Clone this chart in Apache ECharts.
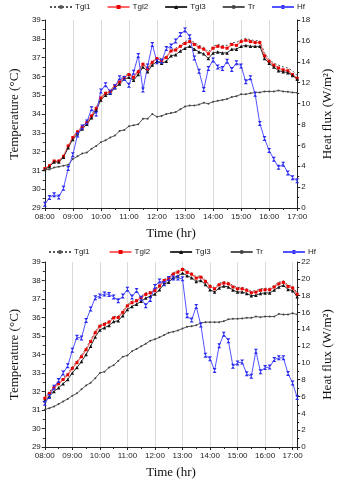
<!DOCTYPE html>
<html>
<head>
<meta charset="utf-8">
<script src="https://cdn.jsdelivr.net/npm/echarts@6/dist/echarts.min.js"></script>
<style>
  html, body { margin: 0; padding: 0; background: #fff; }
  #main { width: 342px; height: 480px; }
</style>
</head>
<body>
<div id="main"></div>
<script>
var chart = echarts.init(document.getElementById("main"));

// readings every 10 min from 08:00
var names = ["Tgl1", "Tgl2", "Tgl3", "Tr", "Hf"];

// top panel (08:00 - 17:00)
var tgl1A = [31.1, 31.25, 31.5, 31.5, 31.75, 32.3, 32.8, 33.1, 33.35, 33.6, 33.95, 34.35, 34.9, 35.15, 35.25, 35.55, 35.75, 36.0, 36.15, 36.0, 36.3, 36.7, 36.45, 36.8, 37.0, 36.95, 37.05, 37.4, 37.5, 37.65, 37.85, 37.95, 37.8, 37.65, 37.55, 37.3, 37.6, 37.7, 37.65, 37.65, 37.8, 37.8, 37.95, 38.02, 37.95, 37.9, 37.9, 37.25, 36.9, 36.7, 36.6, 36.5, 36.45, 36.3, 36.05];
var tgl2A = [31.1, 31.25, 31.5, 31.5, 31.75, 32.3, 32.75, 33.05, 33.3, 33.55, 33.9, 34.3, 34.85, 35.1, 35.2, 35.5, 35.7, 35.95, 36.1, 35.95, 36.25, 36.65, 36.4, 36.75, 36.95, 36.85, 37.0, 37.35, 37.4, 37.6, 37.75, 37.85, 37.7, 37.55, 37.45, 37.2, 37.5, 37.6, 37.55, 37.5, 37.7, 37.65, 37.85, 37.92, 37.85, 37.8, 37.8, 37.1, 36.8, 36.6, 36.45, 36.35, 36.3, 36.1, 35.9];
var tgl3A = [31.05, 31.2, 31.45, 31.45, 31.7, 32.2, 32.65, 32.95, 33.2, 33.45, 33.8, 34.2, 34.75, 35.0, 35.1, 35.4, 35.6, 35.85, 35.95, 35.8, 36.1, 36.5, 36.25, 36.6, 36.8, 36.7, 36.8, 37.1, 37.15, 37.35, 37.5, 37.6, 37.45, 37.3, 37.2, 36.95, 37.25, 37.3, 37.25, 37.25, 37.45, 37.45, 37.6, 37.65, 37.6, 37.6, 37.6, 36.95, 36.7, 36.5, 36.3, 36.25, 36.2, 36.05, 35.85];
var trA = [31.05, 31.05, 31.15, 31.2, 31.25, 31.3, 31.6, 31.75, 31.9, 31.95, 32.15, 32.3, 32.5, 32.6, 32.75, 32.85, 33.1, 33.15, 33.35, 33.4, 33.45, 33.75, 33.75, 34.0, 33.85, 33.9, 34.0, 34.05, 34.1, 34.25, 34.4, 34.45, 34.45, 34.5, 34.6, 34.55, 34.65, 34.7, 34.75, 34.8, 34.9, 34.95, 35.05, 35.05, 35.1, 35.15, 35.15, 35.2, 35.2, 35.2, 35.25, 35.2, 35.18, 35.15, 35.13];
var hfA = [0.35, 1.0, 1.28, 1.05, 1.9, 3.77, 5.1, 7.0, 7.76, 8.24, 9.5, 9.0, 11.2, 11.8, 11.1, 11.6, 12.46, 12.4, 11.76, 13.0, 14.6, 11.3, 13.6, 15.65, 14.0, 14.06, 15.27, 15.5, 16.0, 16.6, 17.04, 16.4, 14.35, 13.1, 11.35, 13.36, 14.16, 13.5, 13.36, 14.06, 13.27, 13.9, 13.6, 12.08, 12.46, 10.9, 8.1, 6.65, 5.5, 4.66, 3.9, 4.2, 3.35, 2.9, 2.6];

// bottom panel (08:00 - 17:10)
var tgl1B = [31.7, 31.98, 32.28, 32.5, 32.73, 32.98, 33.33, 33.64, 33.96, 34.34, 34.78, 35.25, 35.6, 35.7, 35.82, 36.05, 36.08, 36.35, 36.7, 36.88, 36.98, 37.15, 37.33, 37.41, 37.53, 37.78, 38.07, 38.18, 38.42, 38.52, 38.68, 38.52, 38.42, 38.21, 38.26, 38.03, 37.76, 37.63, 37.85, 37.94, 37.9, 37.73, 37.63, 37.63, 37.55, 37.42, 37.45, 37.55, 37.58, 37.58, 37.73, 37.9, 37.98, 37.76, 37.68, 37.33];
var tgl2B = [31.63, 31.9, 32.2, 32.42, 32.65, 32.9, 33.25, 33.56, 33.88, 34.26, 34.7, 35.18, 35.53, 35.63, 35.75, 35.98, 36.0, 36.28, 36.63, 36.8, 36.9, 37.07, 37.25, 37.33, 37.45, 37.7, 38.0, 38.1, 38.35, 38.45, 38.6, 38.44, 38.34, 38.13, 38.18, 37.95, 37.68, 37.55, 37.77, 37.86, 37.82, 37.65, 37.55, 37.55, 37.47, 37.34, 37.37, 37.47, 37.5, 37.5, 37.65, 37.82, 37.9, 37.68, 37.6, 37.25];
var tgl3B = [31.5, 31.75, 32.0, 32.2, 32.42, 32.65, 33.0, 33.3, 33.62, 34.0, 34.45, 34.95, 35.33, 35.45, 35.57, 35.78, 35.82, 36.1, 36.43, 36.6, 36.72, 36.88, 37.05, 37.15, 37.27, 37.5, 37.82, 37.9, 38.15, 38.25, 38.4, 38.26, 38.15, 37.95, 38.0, 37.78, 37.5, 37.38, 37.6, 37.7, 37.65, 37.48, 37.38, 37.38, 37.3, 37.18, 37.2, 37.3, 37.33, 37.33, 37.48, 37.65, 37.74, 37.52, 37.45, 37.12];
var trB = [31.02, 31.1, 31.19, 31.32, 31.46, 31.6, 31.77, 31.9, 32.12, 32.33, 32.47, 32.72, 33.0, 33.07, 33.3, 33.42, 33.65, 33.88, 33.95, 34.18, 34.3, 34.44, 34.58, 34.75, 34.82, 34.93, 35.05, 35.18, 35.23, 35.3, 35.4, 35.5, 35.53, 35.58, 35.7, 35.75, 35.75, 35.75, 35.75, 35.8, 35.9, 35.93, 35.93, 35.95, 35.98, 35.98, 36.05, 36.02, 36.05, 36.05, 36.05, 36.19, 36.16, 36.16, 36.23, 36.16];
var hfB = [5.2, 6.0, 7.1, 7.9, 8.8, 9.65, 11.5, 13.05, 12.95, 15.05, 16.4, 17.75, 17.95, 18.2, 18.15, 17.85, 17.4, 17.95, 18.75, 17.85, 18.6, 17.7, 16.8, 17.55, 19.1, 19.75, 19.4, 20.05, 20.1, 20.1, 20.0, 15.6, 15.1, 16.7, 14.5, 10.9, 10.5, 9.1, 12.05, 13.4, 12.65, 9.6, 10.0, 10.1, 8.7, 8.4, 11.4, 8.95, 9.45, 9.5, 10.4, 10.6, 10.6, 8.75, 7.6, 5.9];

var hourLabel = function (m) {
  var h = 8 + Math.round(m / 60);
  return (h < 10 ? "0" + h : h) + ":00";
};
var pairs = function (vals) {
  return vals.map(function (v, i) { return [i * 10, v]; });
};

var serif = "Liberation Serif";
var sans = "Liberation Sans";
var hourglass = "path://M0,0L10,0L0,10L10,10Z";

function makeSeries(k, arr) {
  var x = k, yL = k * 2, yR = k * 2 + 1;
  return [
    { name: "Tgl1", type: "line", xAxisIndex: x, yAxisIndex: yL, data: pairs(arr[0]),
      symbol: "none", lineStyle: { color: "#555", width: 1, type: [2, 2] }, itemStyle: { color: "#555" } },
    { name: "Tgl2", type: "line", xAxisIndex: x, yAxisIndex: yL, data: pairs(arr[1]),
      symbol: "rect", symbolSize: 3, lineStyle: { color: "#ff6666", width: 1.2 }, itemStyle: { color: "#e60000" } },
    { name: "Tgl3", type: "line", xAxisIndex: x, yAxisIndex: yL, data: pairs(arr[2]),
      symbol: "triangle", symbolSize: 3.5, lineStyle: { color: "#333", width: 1 }, itemStyle: { color: "#111" } },
    { name: "Tr", type: "line", xAxisIndex: x, yAxisIndex: yL, data: pairs(arr[3]),
      symbol: "circle", symbolSize: 2, lineStyle: { color: "#555", width: 1 }, itemStyle: { color: "#444" } },
    { name: "Hf", type: "line", xAxisIndex: x, yAxisIndex: yR, data: pairs(arr[4]),
      symbol: hourglass, symbolSize: [4, 5], lineStyle: { color: "#5252ff", width: 1 }, itemStyle: { color: "#2a2aee" } }
  ];
}

function xAx(k, max) {
  return {
    type: "value", gridIndex: k, min: 0, max: max, interval: 60,
    name: "Time (hr)", nameLocation: "middle", nameGap: 19,
    nameTextStyle: { fontFamily: serif, fontSize: 13, color: "#111" },
    axisLine: { lineStyle: { color: "#222" } },
    axisTick: { lineStyle: { color: "#222" }, length: 3 },
    minorTick: { show: true, splitNumber: 2, length: 2, lineStyle: { color: "#222" } },
    axisLabel: { fontFamily: sans, fontSize: 8, color: "#222", margin: 5, showMaxLabel: max === 540,
      formatter: hourLabel },
    splitLine: { show: true, lineStyle: { color: "#dadada", width: 1 } }
  };
}
function yLeft(k) {
  return {
    type: "value", gridIndex: k, min: 29, max: 39, interval: 1, position: "left",
    name: "Temperature (\u00B0C)", nameLocation: "middle", nameGap: 19, nameRotate: 90,
    nameTextStyle: { fontFamily: serif, fontSize: 13, color: "#111" },
    axisLine: { show: true, lineStyle: { color: "#222" } },
    axisTick: { show: true, lineStyle: { color: "#222" }, length: 3 },
    minorTick: { show: true, splitNumber: 2, length: 2, lineStyle: { color: "#222" } },
    axisLabel: { fontFamily: sans, fontSize: 8, color: "#222", margin: 4 },
    splitLine: { show: false }
  };
}
function yRight(k, max) {
  return {
    type: "value", gridIndex: k, min: 0, max: max, interval: 2, position: "right",
    name: "Heat flux (W/m\u00B2)", nameLocation: "middle", nameGap: 19, nameRotate: 90,
    nameTextStyle: { fontFamily: serif, fontSize: 13, color: "#111" },
    axisLine: { show: true, lineStyle: { color: "#222" } },
    axisTick: { show: true, lineStyle: { color: "#222" }, length: 3 },
    minorTick: { show: true, splitNumber: 2, length: 2, lineStyle: { color: "#222" } },
    axisLabel: { fontFamily: sans, fontSize: 8, color: "#222", margin: 4 },
    splitLine: { show: false }
  };
}
function legendAt(top, left, gap) {
  return {
    top: top, left: left, data: names, itemWidth: 22, itemHeight: 5, itemGap: gap,
    textStyle: { fontFamily: sans, fontSize: 8, color: "#222", padding: [0, 0, 0, -2] }
  };
}

var option = {
  backgroundColor: "#fff",
  animation: false,
  legend: [legendAt(-2, 44, 16), legendAt(243, 43, 19)],
  grid: [
    { left: 37, top: 20, width: 270, height: 188 },
    { left: 33, top: 262, width: 275, height: 190 }
  ],
  xAxis: [xAx(0, 540), xAx(1, 550)],
  yAxis: [yLeft(0), yRight(0, 18), yLeft(1), yRight(1, 22)],
  series: makeSeries(0, [tgl1A, tgl2A, tgl3A, trA, hfA]).concat(
    makeSeries(1, [tgl1B, tgl2B, tgl3B, trB, hfB]))
};
chart.setOption(option);
</script>
</body>
</html>
